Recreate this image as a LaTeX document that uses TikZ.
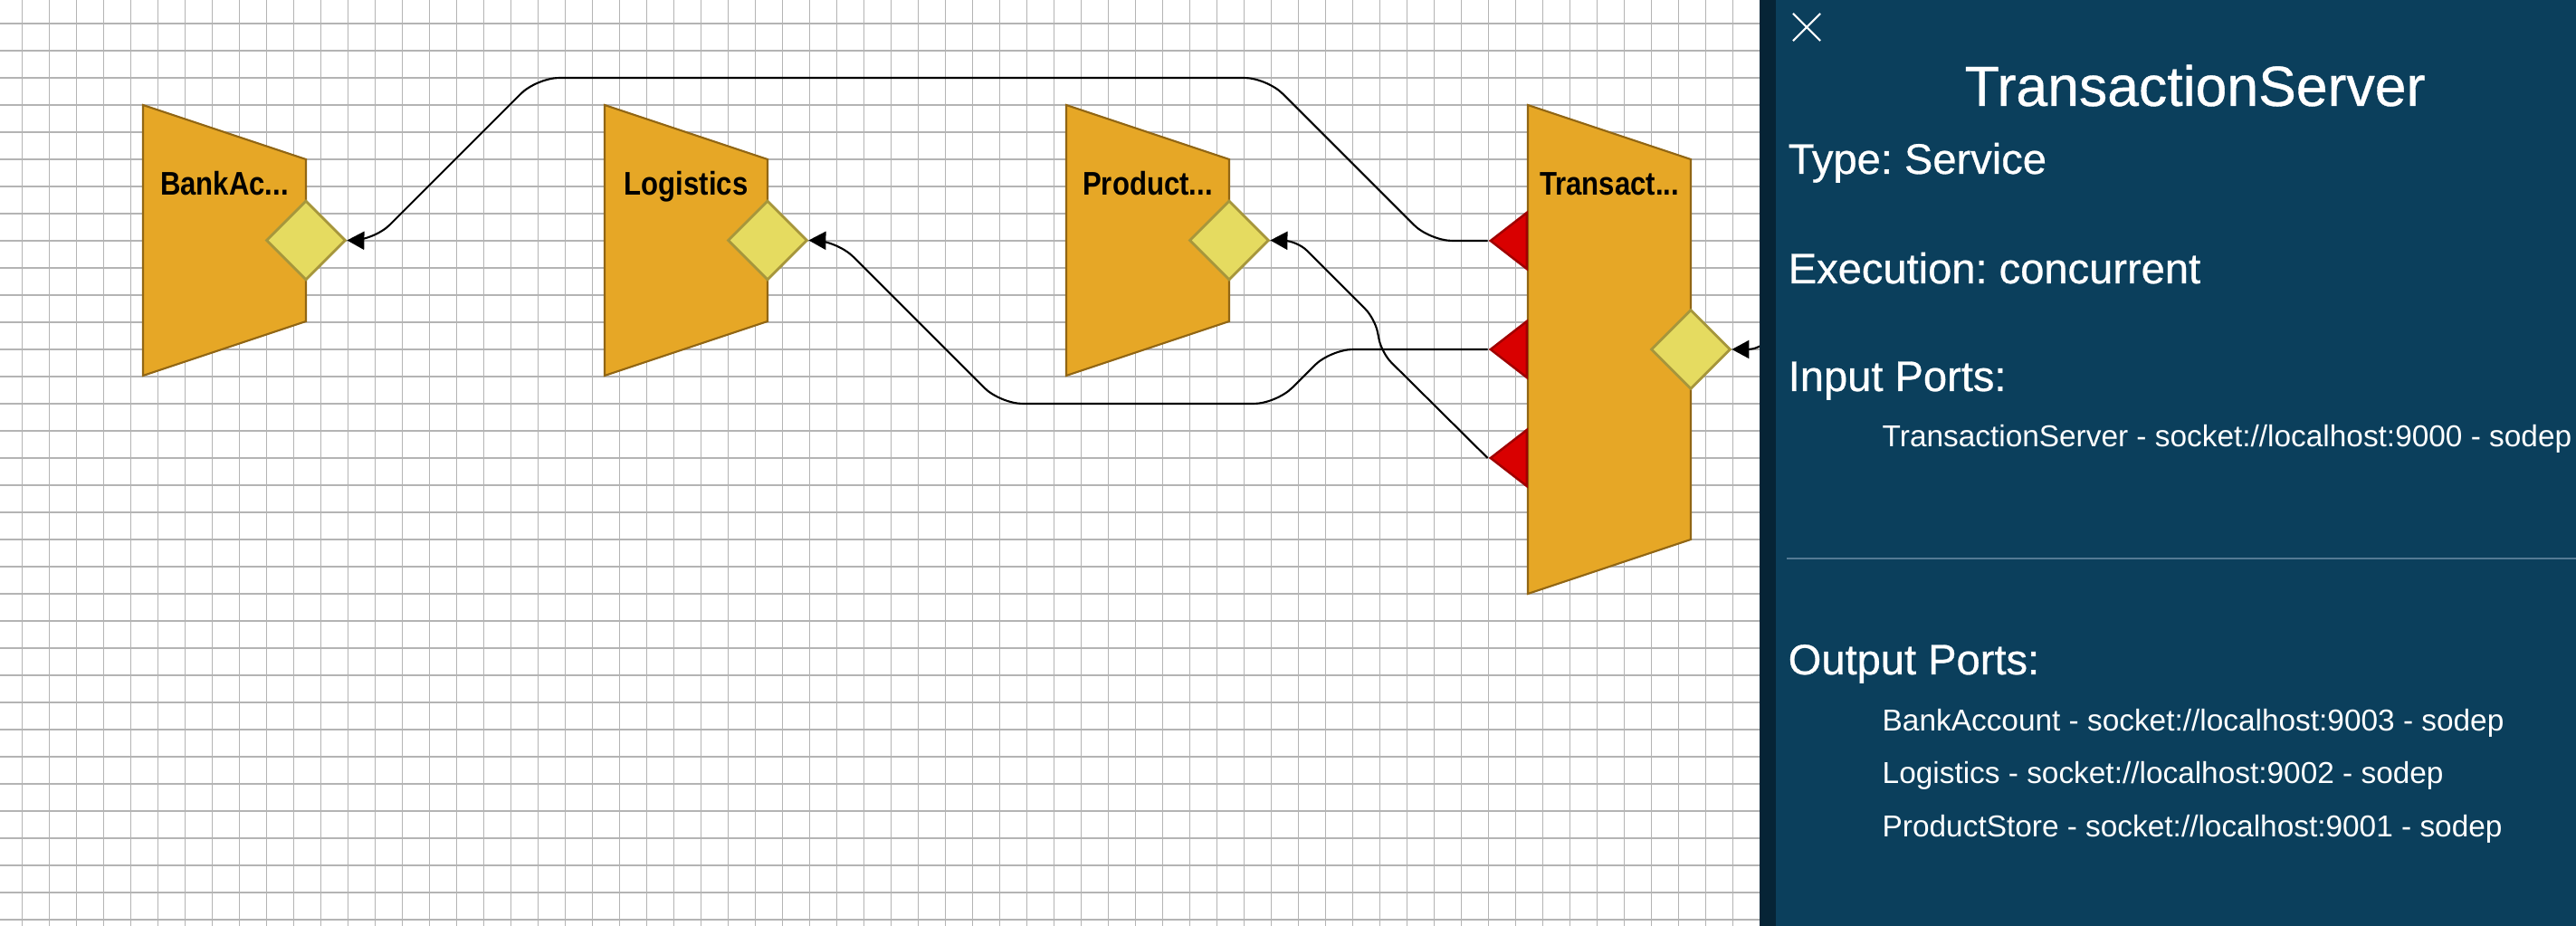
\documentclass[tikz,border=0pt]{standalone}
\usepackage{fontspec}
\setmainfont{Liberation Sans}
\newfontfamily\modfont[FakeStretch=0.86]{Liberation Sans}
\newfontfamily\headfont[FakeBold=0.6]{Liberation Sans}
\usetikzlibrary{shapes.geometric, shapes.misc, arrows.meta, positioning, calc}

% 颜色定义
\definecolor{modfill}{RGB}{230,167,38}
\definecolor{moddraw}{RGB}{145,102,20}
\definecolor{portfill}{RGB}{229,219,96}
\definecolor{portdraw}{RGB}{166,150,60}
\definecolor{infill}{RGB}{217,0,0}
\definecolor{indraw}{RGB}{160,0,0}
\definecolor{panelbg}{RGB}{11,63,92}
\definecolor{paneledge}{RGB}{6,36,54}
\definecolor{panelrule}{RGB}{84,122,148}
\definecolor{gridgray}{RGB}{180,180,180}

\begin{document}
\frenchspacing
\begin{tikzpicture}[
    x=1cm, y=-1cm,
    % --- 样式定义 ---
    % 背景网格
    gridline/.style={draw=gridgray, line width=0.3pt},
    % 服务模块:不可见的矩形框,梯形另画
    modbox/.style={minimum width=1.8cm, inner sep=0pt, outer sep=0pt},
    modshape/.style={fill=modfill, draw=moddraw, line width=0.6pt},
    modlabel/.style={font=\modfont\bfseries\fontsize{10.3pt}{12pt}\selectfont, anchor=base, inner sep=0pt},
    % 端口:输出为菱形,输入为红色三角
    outport/.style={diamond, aspect=1, draw=portdraw, fill=portfill, line width=0.8pt, minimum size=0.88cm, inner sep=0pt},
    inport/.style={isosceles triangle, isosceles triangle stretches, shape border rotate=180, minimum width=0.62cm, minimum height=0.40cm, inner sep=0pt, fill=infill, draw=indraw, line width=0.7pt},
    % 连线
    link/.style={-{Triangle[length=1.9mm, width=2mm]}, line width=0.6pt, rounded corners=2.5mm},
    % 右侧面板文字
    head/.style={white, font=\headfont\fontsize{13.4pt}{16pt}\selectfont, anchor=base west, inner sep=0pt},
    entry/.style={white, font=\fontsize{9.5pt}{11pt}\selectfont, anchor=base west, inner sep=0pt}
]
\useasboundingbox (0,0) rectangle (28.46,10.23);

% ==================== 1. 背景网格 ====================
\foreach \i in {0,...,64} \draw[gridline] ({0.243+0.3*\i},0) -- ({0.243+0.3*\i},10.23);
\foreach \j in {0,...,33} \draw[gridline] (0,{0.26+0.3*\j}) -- (19.5,{0.26+0.3*\j});

% ==================== 2. 服务模块 ====================
% BankAccount
\node[modbox, minimum height=2.99cm] (Bank) at (2.48,2.655) {};
\draw[modshape] (Bank.north west) -- ([yshift=-6mm]Bank.north east) -- ([yshift=6mm]Bank.south east) -- (Bank.south west) -- cycle;
\node[modlabel] (BankName) at ([yshift=-10mm]Bank.north) {BankAc...};
\node[outport] (BankOut) at (Bank.east) {};

% Logistics
\node[modbox, minimum height=2.99cm, right=3.3cm of Bank] (Logi) {};
\draw[modshape] (Logi.north west) -- ([yshift=-6mm]Logi.north east) -- ([yshift=6mm]Logi.south east) -- (Logi.south west) -- cycle;
\node[modlabel] (LogiName) at ([yshift=-10mm]Logi.north) {Logistics};
\node[outport] (LogiOut) at (Logi.east) {};

% ProductStore
\node[modbox, minimum height=2.99cm, right=3.3cm of Logi] (Prod) {};
\draw[modshape] (Prod.north west) -- ([yshift=-6mm]Prod.north east) -- ([yshift=6mm]Prod.south east) -- (Prod.south west) -- cycle;
\node[modlabel] (ProdName) at ([yshift=-10mm]Prod.north) {Product...};
\node[outport] (ProdOut) at (Prod.east) {};

% TransactionServer (高模块,三个输入端口)
\node[modbox, minimum height=5.4cm, anchor=north west] (Trans) at ([xshift=33mm]Prod.north east) {};
\draw[modshape] (Trans.north west) -- ([yshift=-6mm]Trans.north east) -- ([yshift=6mm]Trans.south east) -- (Trans.south west) -- cycle;
\node[modlabel] (TransName) at ([yshift=-10mm]Trans.north) {Transact...};
\node[outport] (TransOut) at (Trans.east) {};
\node[inport, anchor=east] (TransIn1) at ([yshift=12mm]Trans.west) {};
\node[inport, anchor=east] (TransIn2) at (Trans.west) {};
\node[inport, anchor=east] (TransIn3) at ([yshift=-12mm]Trans.west) {};

% ==================== 3. 连接线 ====================
\draw[link] (TransIn1.apex) -- ++(-0.64,0) -- ++(-1.8,-1.8) -- (5.93,0.86) -- ++(-1.8,1.8) -- (BankOut.east);
\draw[link] (TransIn2.apex) -- (14.70,3.86) -- ++(-0.6,0.6) -- (11.05,4.46) -- ++(-1.8,-1.8) -- (LogiOut.east);
\draw[link, rounded corners=1.5mm] (TransIn3.apex) -- ++(-1.17,-1.16) -- (15.19,3.52) -- ++(-0.86,-0.86) -- (ProdOut.east);
% 面板下方进入的连线
\coordinate (PanelSrc) at (19.95,3.62);
\draw[link] (PanelSrc) .. controls (19.6,3.70) and (19.45,3.86) .. (TransOut.east);

% ==================== 4. 右侧信息面板 ====================
\fill[paneledge] (19.44,0) rectangle (19.62,10.23);
\fill[panelbg] (19.62,0) rectangle (28.46,10.23);
\node[cross out, draw=white, line width=0.6pt, minimum size=0.28cm, inner sep=0pt] (CloseBtn) at (19.96,0.30) {};
\node[white, font=\headfont\fontsize{17.8pt}{21pt}\selectfont, anchor=base, inner sep=0pt] (Title) at (24.25,1.17) {TransactionServer};
\node[head] (TypeLbl) at (19.75,1.92) {Type: Service};
\node[head] (ExecLbl) at (19.75,3.13) {Execution: concurrent};
\node[head] (InLbl) at (19.75,4.32) {Input Ports:};
\node[entry] (InPort1) at (20.79,4.94) {TransactionServer - socket://localhost:9000 - sodep};
\draw[panelrule, line width=0.4pt] (19.74,6.17) -- (28.46,6.17);
\node[head] (OutLbl) at (19.75,7.45) {Output Ports:};
\node[entry] (OutPort1) at (20.79,8.08) {BankAccount - socket://localhost:9003 - sodep};
\node[entry] (OutPort2) at (20.79,8.66) {Logistics - socket://localhost:9002 - sodep};
\node[entry] (OutPort3) at (20.79,9.25) {ProductStore - socket://localhost:9001 - sodep};

\end{tikzpicture}
\end{document}
